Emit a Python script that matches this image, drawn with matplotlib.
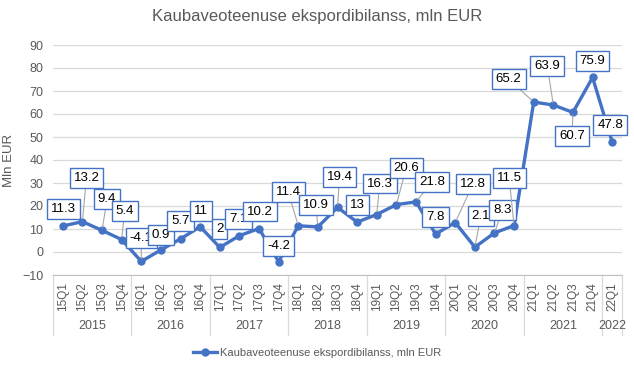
import matplotlib.pyplot as plt
import numpy as np

plt.rcParams['font.family'] = ['Liberation Sans', 'DejaVu Sans']

quarters = ['15Q1', '15Q2', '15Q3', '15Q4', '16Q1', '16Q2', '16Q3', '16Q4',
            '17Q1', '17Q2', '17Q3', '17Q4', '18Q1', '18Q2', '18Q3', '18Q4',
            '19Q1', '19Q2', '19Q3', '19Q4', '20Q1', '20Q2', '20Q3', '20Q4',
            '21Q1', '21Q2', '21Q3', '21Q4', '22Q1']
years = ['2015', '2016', '2017', '2018', '2019', '2020', '2021', '2022']
year_counts = [4, 4, 4, 4, 4, 4, 4, 1]
values = [11.3, 13.2, 9.4, 5.4, -4.1, 0.9, 5.7, 11, 2, 7.1, 10.2, -4.2,
          11.4, 10.9, 19.4, 13, 16.3, 20.6, 21.8, 7.8, 12.8, 2.1, 8.3, 11.5,
          65.2, 63.9, 60.7, 75.9, 47.8]
series_name = 'Kaubaveoteenuse ekspordibilanss, mln EUR'

# label offsets from the point, in pixels
label_offsets = [(1, 17), (4, 44), (5, 31), (3, 29), (0, 23), (0, 15), (0, 18),
                 (1, 16), (0, 18), (-1, 17), (1, 17), (0, 16), (-10, 34),
                 (-2, 22), (2, 30), (0, 17), (3, 31), (10, 37), (16, 20),
                 (0, 17), (18, 39), (6, 31), (8, 23), (-5, 48), (-25, 23),
                 (-6, 39), (-1, -24), (0, 16), (-2, 17)]

blue = '#4472C4'
grey_txt = '#595959'

fig = plt.figure(figsize=(6.34, 3.74), dpi=100)
ax = fig.add_axes([53 / 634, 1 - 275 / 374, 569 / 634, 230 / 374])

x = np.arange(len(quarters))
ax.plot(x, values, color=blue, lw=2.4, marker='o', ms=5, zorder=3,
        label=series_name)

for xi, v, (dx, dy) in zip(x, values, label_offsets):
    lbl = f'{v:g}'
    arrow = None
    if np.hypot(dx, dy) > 20:
        arrow = dict(arrowstyle='-', color='#A6A6A6', lw=0.8,
                     shrinkA=0, shrinkB=2)
    ax.annotate(lbl, (xi, v), xytext=(dx, dy), textcoords='offset pixels',
                ha='center', va='center', fontsize=9.5, color='black',
                bbox=dict(boxstyle='square,pad=0.3', fc='white', ec=blue, lw=1),
                arrowprops=arrow, zorder=4)

ax.set_ylim(-10, 90)
ax.set_yticks(range(-10, 91, 10))
ax.set_xlim(-0.5, len(quarters) - 0.5)
ax.grid(axis='y', color='#D9D9D9', lw=0.9)
ax.set_axisbelow(True)
for s in ['top', 'right', 'left']:
    ax.spines[s].set_visible(False)
ax.spines['bottom'].set_color('#BFBFBF')
ax.tick_params(axis='y', length=0, labelsize=9, labelcolor=grey_txt, pad=7)
ax.set_xticks(x)
ax.set_xticklabels(quarters, rotation=90, fontsize=8.5, color=grey_txt)
ax.tick_params(axis='x', length=0, pad=5)
ax.set_ylabel('Mln EUR', fontsize=9.5, color=grey_txt)
ax.yaxis.set_label_coords(-38 / 569, 0.5)

# year group labels and separators
trans = ax.get_xaxis_transform()
start = -0.5
for yr, n in zip(years, year_counts):
    ax.plot([start, start], [0, -0.26], transform=trans, color='#D9D9D9',
            lw=0.9, clip_on=False)
    ax.text(start + n / 2, -0.222, yr, transform=trans, ha='center',
            va='center', fontsize=9, color=grey_txt)
    start += n
ax.plot([start, start], [0, -0.26], transform=trans, color='#D9D9D9',
        lw=0.9, clip_on=False)

fig.suptitle(series_name, y=1 - 17 / 374, va='center',
             fontsize=12, color=grey_txt)
fig.legend(loc='center', bbox_to_anchor=(0.5, 1 - 353 / 374), frameon=False,
           fontsize=8, labelcolor=grey_txt, handlelength=2.2,
           handletextpad=0.2)

fig.savefig('out.png', dpi=100)
